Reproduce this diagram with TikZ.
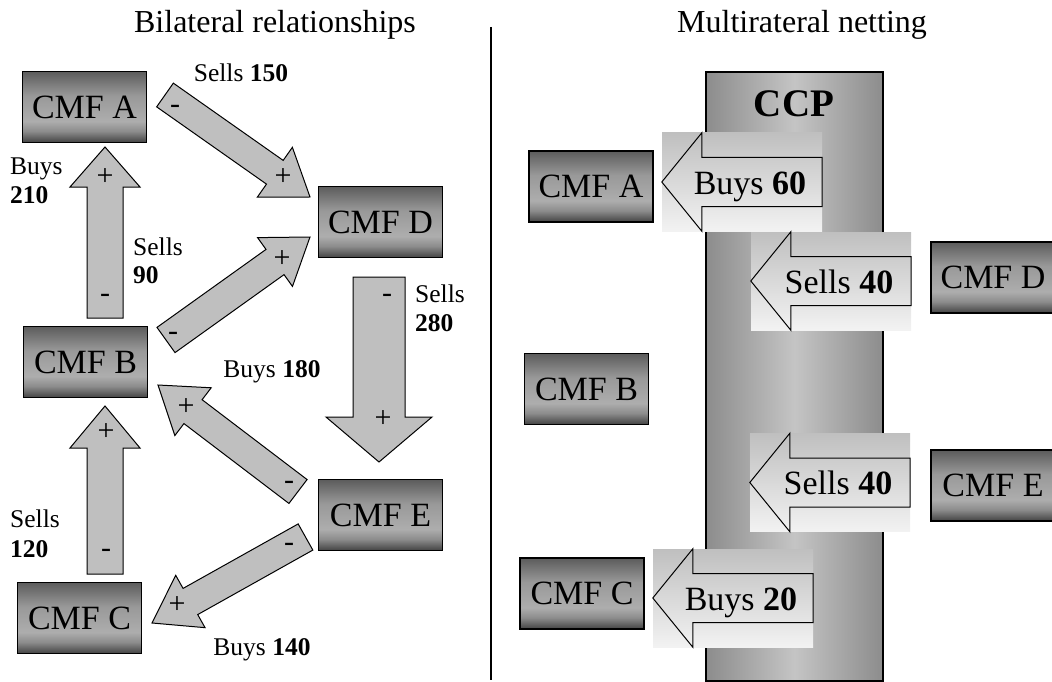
\documentclass[tikz,border=0pt]{standalone}
\usepackage{fontspec}
\setmainfont{Liberation Serif}
\usetikzlibrary{calc}
\definecolor{bxtop}{gray}{0.36}
\definecolor{bxmid}{gray}{0.60}
\definecolor{bxlight}{gray}{0.68}
\definecolor{bxlow}{gray}{0.55}
\definecolor{bxbot}{gray}{0.26}
\definecolor{ccpedge}{gray}{0.55}
\definecolor{ccpmid}{gray}{0.77}
\pgfdeclareverticalshading{cmfshade}{100bp}{color(0bp)=(bxbot); color(25bp)=(bxbot); color(33bp)=(bxlow); color(40bp)=(bxlight); color(58bp)=(bxmid); color(75bp)=(bxtop); color(100bp)=(bxtop)}
\tikzset{
  cmf/.style={draw=black, line width=1.1pt, shading=cmfshade, minimum width=124pt, minimum height=71pt, inner sep=0pt, font=\fontsize{34}{36}\selectfont},
  lab/.style={font=\fontsize{25.5}{28}\selectfont, inner sep=0pt, anchor=base},
  labw/.style={font=\fontsize{25.5}{28}\selectfont, inner sep=0pt, anchor=base west},
  sgn/.style={font=\fontsize{30}{32}\selectfont, inner sep=0pt, anchor=base},
  barrow/.style={fill=black!25, draw=black, line width=1pt, line join=miter},
  netbg/.style={top color=black!25, bottom color=black!5, draw=none, minimum width=160pt, minimum height=98pt, inner sep=0pt},
  netarrow/.style={draw=black, line width=1pt},
  netlab/.style={font=\fontsize{34}{36}\selectfont, inner sep=0pt, anchor=base},
  ttl/.style={font=\fontsize{32}{36}\selectfont, inner sep=0pt, anchor=base},
}
\newcommand\blockarrow[5]{%
  \path let \p1=(#1), \p2=(#2) in \pgfextra{%
    \pgfmathsetmacro\bAangtmp{atan2(\y2-\y1,\x2-\x1)}%
    \pgfmathsetmacro\bAlentmp{veclen(\x2-\x1,\y2-\y1)}%
    \xdef\bAang{\bAangtmp}\xdef\bAlen{\bAlentmp}};
  \begin{scope}[shift={(#1)}, rotate=\bAang]
    \draw[barrow] (0pt,-#3pt) -- ({(\bAlen-#5)*1pt},-#3pt) -- ({(\bAlen-#5)*1pt},-#4pt)
      -- ({\bAlen*1pt},0pt) -- ({(\bAlen-#5)*1pt},#4pt) -- ({(\bAlen-#5)*1pt},#3pt) -- (0pt,#3pt) -- cycle;
  \end{scope}}
\begin{document}
\begin{tikzpicture}[x=1pt,y=-1pt]
\useasboundingbox (0,0) rectangle (1052,682);
\clip (0,0) rectangle (1052,682);
% titles and divider
\node[ttl] (t1) at (275,33) {Bilateral relationships};
\node[ttl] (t2) at (802,33) {Multirateral netting};
\coordinate (divtop) at (491,27);
\coordinate (divbot) at (491,680);
\draw[line width=1.5pt] (divtop) -- (divbot);

% ---------- left: bilateral ----------
\node[cmf] (lA) at (84.5,107) {CMF A};
\node[cmf] (lD) at (380.5,222) {CMF D};
\node[cmf] (lB) at (85.5,362) {CMF B};
\node[cmf] (lE) at (380.5,515) {CMF E};
\node[cmf] (lC) at (79.5,618) {CMF C};

\coordinate (baT) at (105,318); \coordinate (baH) at (105,147);
\coordinate (adT) at (165,95);  \coordinate (adH) at (310,197);
\coordinate (bdT) at (166,340); \coordinate (bdH) at (310,237);
\coordinate (deT) at (379,277); \coordinate (deH) at (379,462);
\coordinate (ebT) at (298,491.5); \coordinate (ebH) at (158,385);
\coordinate (cbT) at (105,574); \coordinate (cbH) at (105,406);
\coordinate (ecT) at (305.5,537); \coordinate (ecH) at (152,623);

\blockarrow{baT}{baH}{18}{35}{40}
\blockarrow{adT}{adH}{14.5}{30.5}{43}
\blockarrow{bdT}{bdH}{15.5}{30}{43}
\blockarrow{deT}{deH}{26}{53}{45}
\blockarrow{ebT}{ebH}{15}{30}{44}
\blockarrow{cbT}{cbH}{18}{35}{42}
\blockarrow{ecT}{ecH}{15}{30}{44}

% signs
\node[sgn] (s1) at (105,185) {+};  \node[sgn] (s2) at (105,302) {-};
\node[sgn] (s3) at (175,114) {-};  \node[sgn] (s4) at (283,185) {+};
\node[sgn] (s5) at (173,340) {-};  \node[sgn] (s6) at (282,267) {+};
\node[sgn] (s7) at (387,302) {-};  \node[sgn] (s8) at (383,427) {+};
\node[sgn] (s9) at (186,415) {+};  \node[sgn] (s10) at (289,489) {-};
\node[sgn] (s11) at (106,440) {+}; \node[sgn] (s12) at (106,557) {-};
\node[sgn] (s13) at (289,551) {-}; \node[sgn] (s14) at (177,613) {+};

% labels
\node[lab] (l150) at (241,82) {Sells \textbf{150}};
\node[labw] (l210a) at (10,175) {Buys};
\node[labw] (l210b) at (10,203) {\textbf{210}};
\node[labw] (l90a) at (133,255) {Sells};
\node[labw] (l90b) at (133,283) {\textbf{90}};
\node[labw] (l280a) at (415,302) {Sells};
\node[labw] (l280b) at (415,331) {\textbf{280}};
\node[lab] (l180) at (272,377) {Buys \textbf{180}};
\node[labw] (l120a) at (10,527) {Sells};
\node[labw] (l120b) at (10,557) {\textbf{120}};
\node[lab] (l140) at (262,655) {Buys \textbf{140}};

% ---------- right: multilateral netting ----------
\node[draw=black, line width=1.2pt, left color=ccpedge, right color=ccpedge, middle color=ccpmid,
      minimum width=177pt, minimum height=609pt, inner sep=0pt] (ccp) at (794.5,376.5) {};
\node[font=\fontsize{39}{42}\selectfont\bfseries, inner sep=0pt, anchor=base] (ccpt) at (794,117) {CCP};

\node[cmf] (rA) at (591,186.5) {CMF A};
\node[cmf] (rD) at (993,277.5) {CMF D};
\node[cmf] (rB) at (586.5,389) {CMF B};
\node[cmf] (rE) at (993,485.5) {CMF E};
\node[cmf] (rC) at (582,593.5) {CMF C};

\foreach \nm/\cx/\cy/\txt in {n60/742/182/{Buys \textbf{60}}, n40a/831/281/{Sells \textbf{40}}, n40b/830/482.5/{Sells \textbf{40}}, n20/733/598/{Buys \textbf{20}}}{
  \node[netbg] (\nm) at (\cx,\cy) {};
  \draw[netarrow] (\nm.west) -- ($(\nm.north west)+(40,0)$) -- ($(\nm.west)+(40,-24.5)$)
    -- ($(\nm.east)+(0,-24.5)$) -- ($(\nm.east)+(0,24.5)$) -- ($(\nm.west)+(40,24.5)$)
    -- ($(\nm.south west)+(40,0)$) -- cycle;
  \node[netlab] at ($(\nm.center)+(8,12)$) {\txt};
}
\end{tikzpicture}
\end{document}
